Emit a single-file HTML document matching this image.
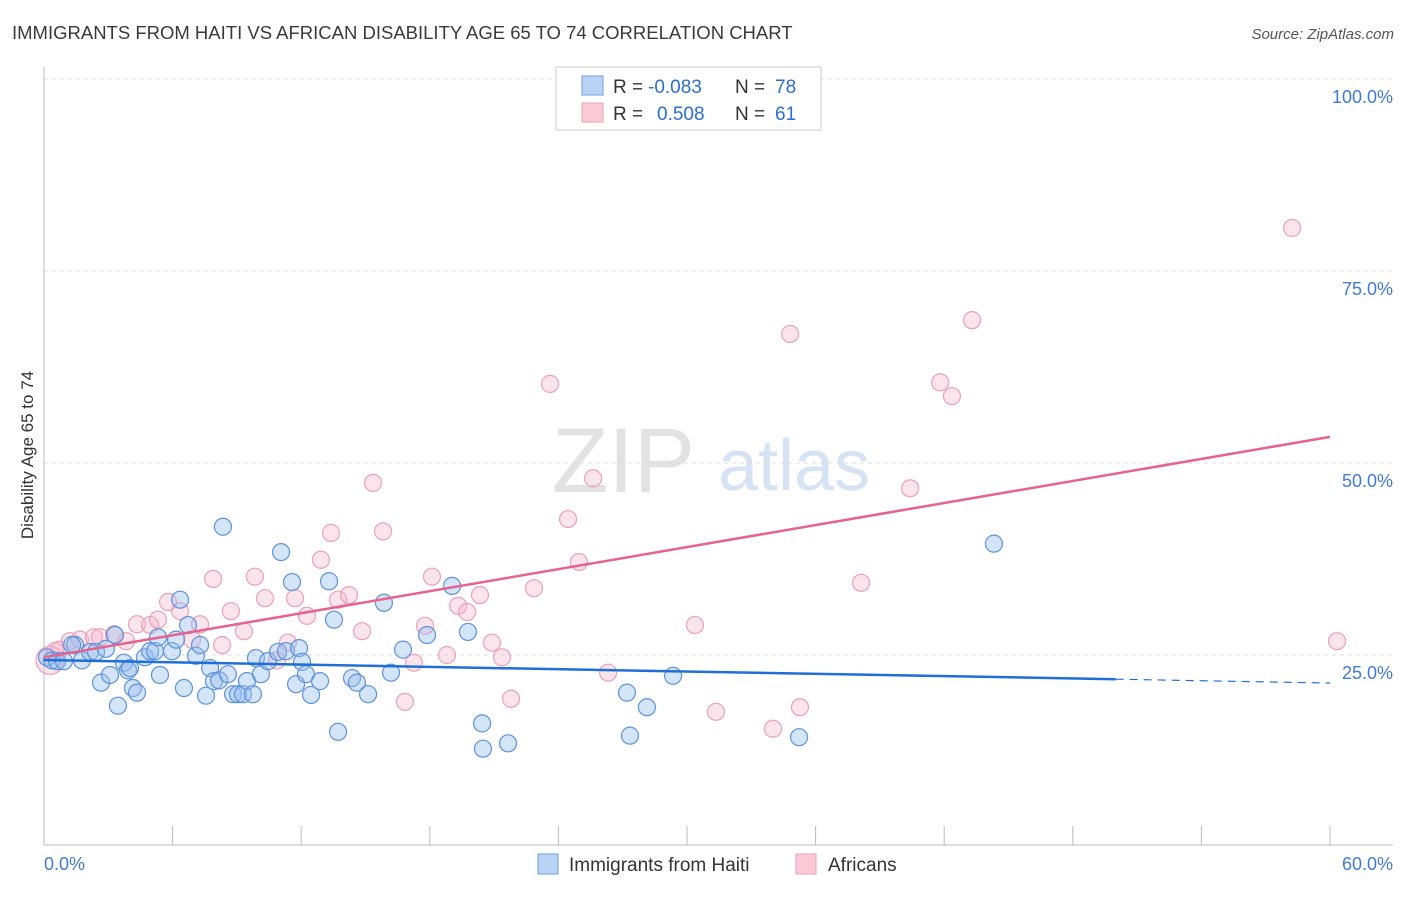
<!DOCTYPE html>
<html><head><meta charset="utf-8"><style>
body{margin:0;background:#fff;font-family:"Liberation Sans",sans-serif}
svg text{font-family:"Liberation Sans",sans-serif}
</style></head><body>
<svg id="chart" width="1406" height="892" xmlns="http://www.w3.org/2000/svg">
<text x="12" y="39" font-size="18.5" fill="#3a3a3a">IMMIGRANTS FROM HAITI VS AFRICAN DISABILITY AGE 65 TO 74 CORRELATION CHART</text>
<text x="1394" y="39" font-size="15" fill="#555" font-style="italic" text-anchor="end">Source: ZipAtlas.com</text>
<g>
<text x="552" y="492" font-size="92" fill="#e2e2e2" font-family="Liberation Serif,serif">ZIP</text>
<text x="718" y="490" font-size="72" fill="#d6e3f4">atlas</text>
</g>
<g id="grid"></g>
<g id="axes"></g>
<g id="marks"></g>
<text transform="translate(33,455) rotate(-90)" font-size="17" fill="#333" text-anchor="middle">Disability Age 65 to 74</text>
<g>
<rect x="556" y="67" width="265" height="63" fill="#fff" stroke="#ccc"/>
<rect x="582" y="76" width="21" height="19" fill="#b9d3f5" stroke="#6f9ce0"/>
<rect x="582" y="103" width="21" height="19" fill="#fbc9d8" stroke="#eba1b8"/>
<text x="613" y="93" font-size="19" fill="#333">R =</text>
<text x="648" y="93" font-size="19" fill="#2a6fd0">-0.083</text>
<text x="735" y="93" font-size="19" fill="#333">N =</text>
<text x="775" y="93" font-size="19" fill="#2a6fd0">78</text>
<text x="613" y="120" font-size="19" fill="#333">R =</text>
<text x="657" y="120" font-size="19" fill="#2a6fd0">0.508</text>
<text x="735" y="120" font-size="19" fill="#333">N =</text>
<text x="775" y="120" font-size="19" fill="#2a6fd0">61</text>
</g>
<g>
<rect x="538" y="854" width="20" height="20" fill="#b9d3f5" stroke="#6f9ce0"/>
<text x="569" y="871" font-size="19" fill="#333">Immigrants from Haiti</text>
<rect x="796" y="854" width="20" height="20" fill="#fbc9d8" stroke="#eba1b8"/>
<text x="828" y="871" font-size="19" fill="#333">Africans</text>
</g>
</svg>
<script>
const xTicks=[0,6,12,18,24,30,36,42,48,54,60];
const yTicks=[25,50,75,100];
const yTickLabels=["25.0%","50.0%","75.0%","100.0%"];
const xTickLabels=["0.0%","60.0%"];
const haitiX=[0.14,0.37,0.61,0.93,1.45,1.77,2.15,2.43,2.66,3.08,3.31,3.45,3.73,3.92,4.15,4.34,4.71,4.95,5.18,5.32,5.41,5.97,6.16,6.35,6.53,6.72,7.09,7.28,7.56,7.75,7.93,8.17,8.35,8.58,8.82,9.05,9.28,9.47,9.75,9.89,10.12,10.45,10.92,11.06,11.29,11.57,11.76,11.9,12.04,12.22,12.46,12.88,13.3,13.53,13.72,14.37,14.6,15.12,15.86,16.19,16.75,17.87,19.04,19.78,20.44,20.48,21.65,27.2,27.34,28.13,29.35,35.23,44.32,1.31,2.89,4.01];
const haitiY=[24.7,24.3,24.2,24.2,26.3,24.3,25.4,25.4,21.4,22.4,27.6,18.4,24.0,23.0,20.7,20.1,24.7,25.5,25.5,27.3,22.4,25.5,27.0,32.2,20.7,28.9,24.9,26.3,19.7,23.3,21.6,21.7,41.7,22.5,19.9,19.9,19.9,21.6,19.9,24.6,22.5,24.2,25.4,38.4,25.5,34.5,21.2,25.9,24.1,22.5,19.8,21.6,34.6,29.6,15.0,22.0,21.4,19.9,31.8,22.7,25.7,27.6,34.0,28.0,16.1,12.8,13.5,20.1,14.5,18.2,22.3,14.3,39.5,26.3,25.8,23.3];
const afrX=[0.28,0.51,0.75,1.21,1.68,2.33,2.61,3.27,3.83,4.34,4.95,5.32,5.79,6.35,6.91,7.28,7.89,8.31,8.72,9.33,9.84,10.31,10.87,11.38,11.71,12.27,12.92,13.39,13.72,14.23,14.84,15.35,15.82,16.84,17.26,17.78,18.1,18.8,19.32,19.74,20.34,20.9,21.37,21.79,22.86,23.61,24.45,24.96,25.62,26.32,30.37,31.35,34.01,34.81,35.27,38.12,40.41,41.81,42.36,43.3,58.23,60.33];
const afrY=[24.3,25.5,25.7,26.8,27.0,27.3,27.3,27.7,26.8,29.0,28.9,29.6,31.9,30.7,27.0,29.0,34.9,26.3,30.7,28.1,35.2,32.4,24.3,26.6,32.4,30.1,37.4,40.9,32.2,32.8,28.1,47.4,41.1,18.9,24.0,28.8,35.2,25.0,31.4,30.6,32.8,26.6,24.7,19.3,33.7,60.3,42.7,37.1,48.0,22.7,28.9,17.6,15.4,66.8,18.2,34.4,46.7,60.5,58.7,68.6,80.6,26.8];
const haitiTrend=[24.35,21.35];
const haitiSolidEnd=50;
const afrTrend=[24.7,53.4];
const NS="http://www.w3.org/2000/svg";
const X=v=>44+v*(1286/60);
const Y=v=>847-v*7.68;
function mk(tag,attrs,parent){const e=document.createElementNS(NS,tag);for(const k in attrs)e.setAttribute(k,attrs[k]);parent.appendChild(e);return e;}
const grid=document.getElementById('grid'),axes=document.getElementById('axes'),marks=document.getElementById('marks');
yTicks.forEach((t,i)=>{
 const l=mk('line',{x1:44,x2:1393,y1:Y(t),y2:Y(t),stroke:'#dcdcdc','stroke-dasharray':'4,4'},grid);
 
 
 const tx=mk('text',{x:1393,y:Y(t)+24,'font-size':18,fill:'#3f7bd6','text-anchor':'end'},axes);
 tx.textContent=yTickLabels[i];
 
 
});
const ax=mk('line',{x1:44,x2:44,y1:67,y2:845,stroke:'#bbb'},axes);


const bx=mk('line',{x1:44,x2:1393,y1:845,y2:845,stroke:'#bbb'},axes);


xTicks.forEach(t=>{
 const l=mk('line',{x1:X(t),x2:X(t),y1:826,y2:845,stroke:'#bbb'},axes);
 
 
});
[[0,'start',xTickLabels[0]],[60,'end',xTickLabels[1]]].forEach(([v,a,s],i)=>{
 const t=mk('text',{x:i?1393:44,y:870,'font-size':18,fill:'#3f7bd6','text-anchor':a},axes);
 t.textContent=s;
 
 
});
afrX.forEach((x,i)=>{
 const c=mk('circle',{cx:X(x),cy:Y(afrY[i]),r:i===0?14:8.5,fill:'rgba(247,178,200,0.35)',stroke:'#eba1b8','stroke-width':1.2},marks);
 
 
});
haitiX.forEach((x,i)=>{
 const c=mk('circle',{cx:X(x),cy:Y(haitiY[i]),r:8.5,fill:'rgba(150,190,240,0.4)',stroke:'#5d92de','stroke-width':1.2},marks);
 
 
});
const hy=x=>haitiTrend[0]+(haitiTrend[1]-haitiTrend[0])*x/60;
const t1=mk('line',{x1:X(0),y1:Y(hy(0)),x2:X(haitiSolidEnd),y2:Y(hy(haitiSolidEnd)),stroke:'#1f6fd6','stroke-width':2.5},marks);


const t2=mk('line',{x1:X(haitiSolidEnd),y1:Y(hy(haitiSolidEnd)),x2:X(60),y2:Y(hy(60)),stroke:'#1f6fd6','stroke-width':1.2,'stroke-dasharray':'8,6'},marks);


const t3=mk('line',{x1:X(0),y1:Y(afrTrend[0]),x2:X(60),y2:Y(afrTrend[1]),stroke:'#e8628f','stroke-width':2.5},marks);


</script>
</body></html>
